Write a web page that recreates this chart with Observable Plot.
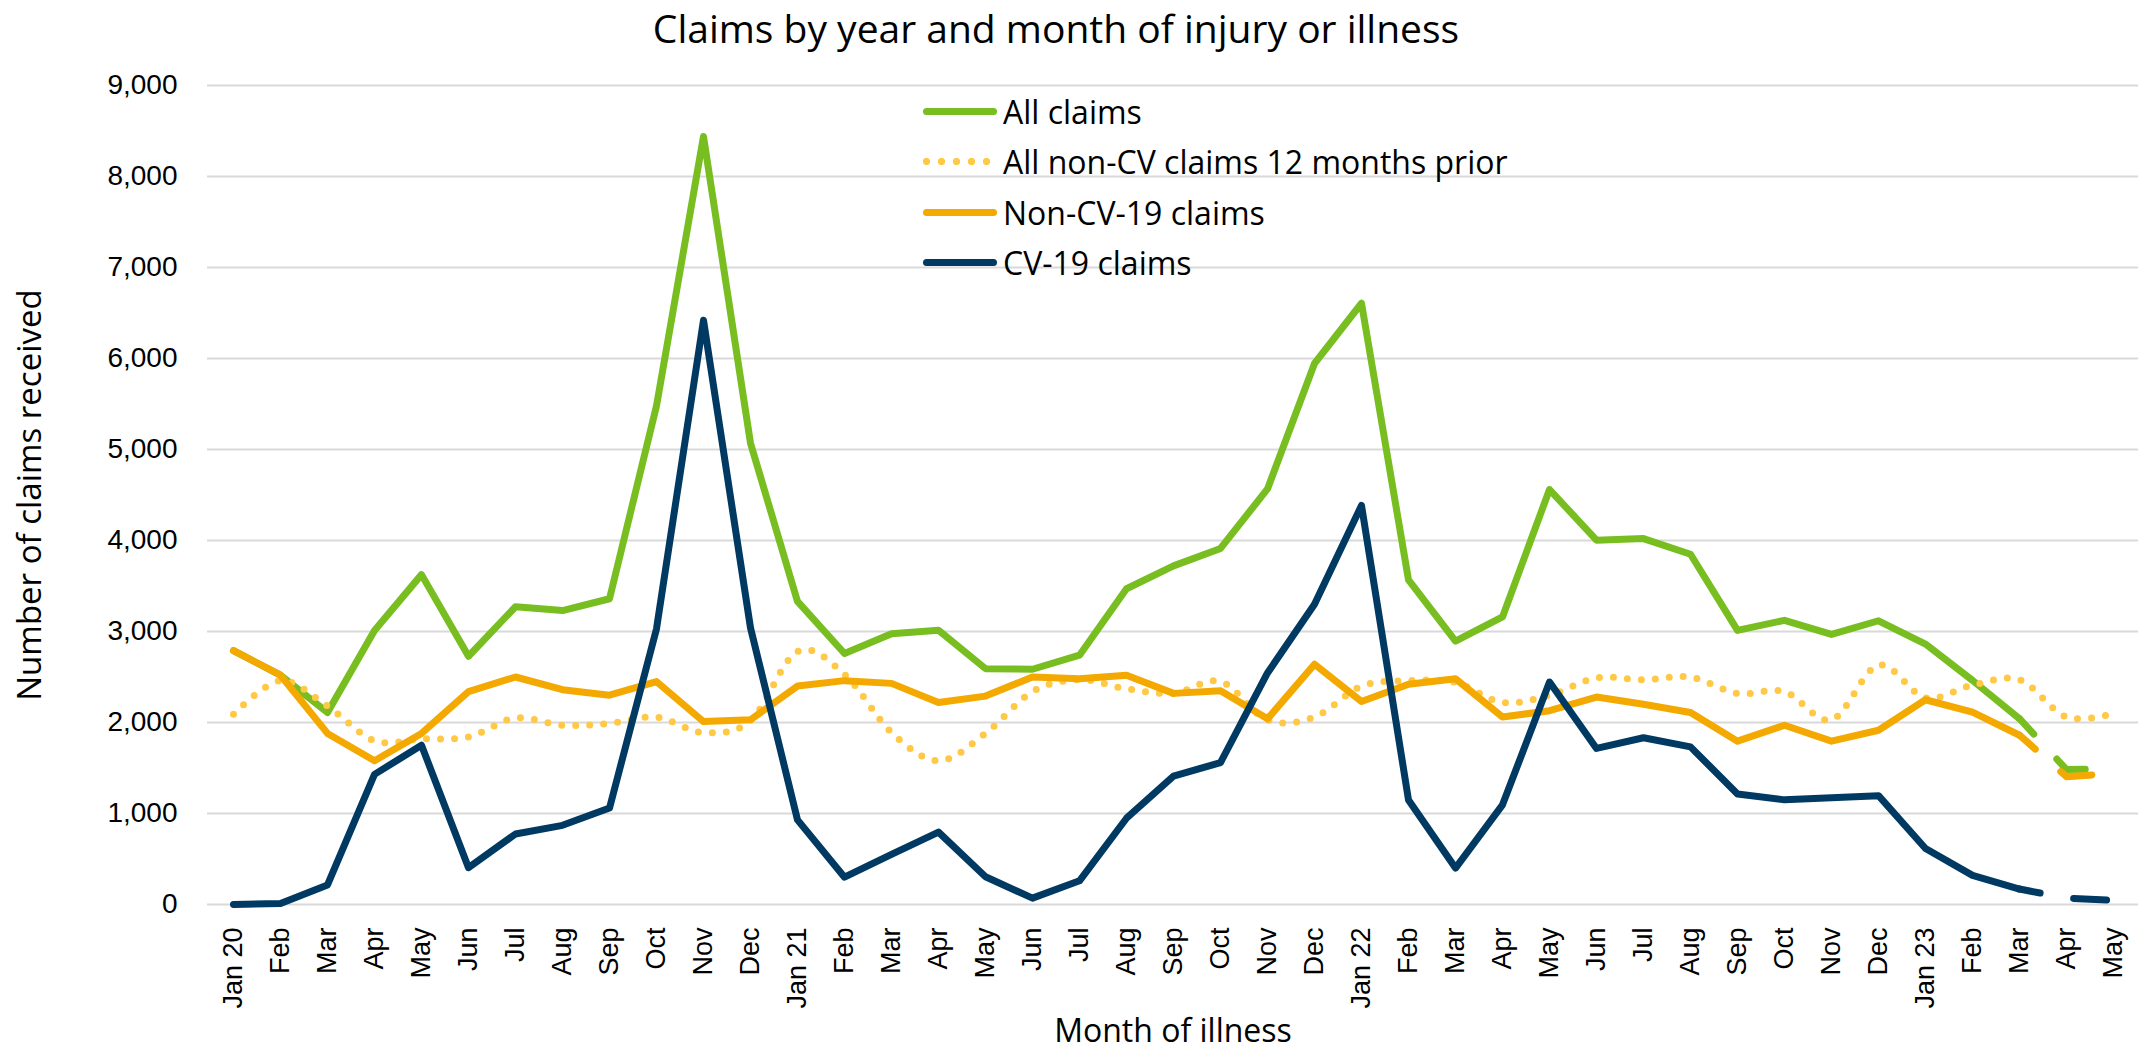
<!DOCTYPE html>
<html>
<head>
<meta charset="utf-8">
<script src="https://cdn.jsdelivr.net/npm/d3@7"></script>
<script src="https://cdn.jsdelivr.net/npm/@observablehq/plot@0.6"></script>
<style>
  body { margin: 0; background: #fff; width: 2147px; height: 1057px; position: relative; overflow: hidden; font-family: "Open Sans", sans-serif; }
  #title { position: absolute; left: 0; top: 0; width: 2112px; height: 55px; line-height: 55px; text-align: center; font-size: 39px; color: #000; }
  #chart { position: absolute; left: 0; top: 55px; }
  .leg { position: absolute; left: 923px; height: 50px; display: flex; align-items: center; font-size: 32px; color: #000; white-space: nowrap; z-index: 2; }
  .sw { width: 74px; height: 7px; border-radius: 3.5px; margin-right: 6px; }
  .dot { width: 74px; height: 7px; margin-right: 6px; background-image: radial-gradient(circle at 3.5px 3.5px, #ffc845 3.4px, transparent 3.9px); background-size: 15px 7px; background-repeat: repeat-x; }
</style>
</head>
<body>
<div id="title">Claims by year and month of injury or illness</div>
<div id="chart"></div>
<div class="leg" style="top:86px"><div class="sw" style="background:#78be21"></div>All claims</div>
<div class="leg" style="top:136px"><div class="dot"></div>All non-CV claims 12 months prior</div>
<div class="leg" style="top:187px"><div class="sw" style="background:#f4a900"></div>Non-CV-19 claims</div>
<div class="leg" style="top:237px"><div class="sw" style="background:#003a63"></div>CV-19 claims</div>
<script>
// Month labels (x categories)
const months = [
  "Jan 20","Feb","Mar","Apr","May","Jun","Jul","Aug","Sep","Oct","Nov","Dec",
  "Jan 21","Feb","Mar","Apr","May","Jun","Jul","Aug","Sep","Oct","Nov","Dec",
  "Jan 22","Feb","Mar","Apr","May","Jun","Jul","Aug","Sep","Oct","Nov","Dec",
  "Jan 23","Feb","Mar","Apr","May"
];
// Series values
const allClaims = [
  2790, 2520, 2110, 3010, 3625, 2728, 3272, 3230, 3360, 5480, 8440, 5070,
  3330, 2758, 2975, 3013, 2592, 2585, 2740, 3470, 3721, 3913, 4567, 5945,
  6607, 3567, 2895, 3160, 4560, 4003, 4021, 3849, 3012, 3123, 2968, 3118,
  2862, 2463, 2042, 1483, 1494
];
const priorYear = [
  2090, 2460, 2180, 1800, 1820, 1840, 2050, 1970, 1990, 2060, 1890, 2020,
  2780, 2530, 1890, 1580, 1880, 2340, 2470, 2370, 2320, 2450, 2030, 2060,
  2400, 2460, 2440, 2220, 2300, 2490, 2470, 2500, 2320, 2340, 2030, 2630,
  2270, 2410, 2470, 2060, 2100
];
const nonCV = [
  2790, 2520, 1880, 1580, 1880, 2340, 2500, 2360, 2300, 2450, 2010, 2030,
  2400, 2460, 2430, 2220, 2290, 2500, 2480, 2520, 2320, 2350, 2040, 2640,
  2230, 2420, 2480, 2060, 2130, 2280, 2200, 2110, 1795, 1970, 1795, 1915,
  2250, 2115, 1860, 1405, 1440
];
const cvClaims = [
  0, 10, 215, 1430, 1750, 405, 775, 870, 1060, 3030, 6420, 3040,
  930, 300, 550, 795, 305, 70, 260, 948, 1410, 1560, 2545, 3300,
  4385, 1148, 400, 1095, 2444, 1715, 1832, 1732, 1215, 1150, 1172, 1196,
  615, 320, 170, 70, 45
];
const yTicks = [0, 1000, 2000, 3000, 4000, 5000, 6000, 7000, 8000, 9000];
const lastSolid = 38; // Mar 23: later months shown dashed

const GREEN = "#78be21", DOT = "#ffc845", ORANGE = "#f4a900", NAVY = "#003a63";

const rows = months.map((m, i) => ({i, all: allClaims[i], prior: priorYear[i], non: nonCV[i], cv: cvClaims[i]}));
const solid = rows.filter(d => d.i <= lastSolid);
const dashed = rows.filter(d => d.i >= lastSolid);
const dash = {strokeDasharray: "33,34", strokeDashoffset: 12};

const chart = Plot.plot({
  width: 2147,
  height: 1002,
  marginLeft: 207,
  marginRight: 9,
  marginTop: 30,
  marginBottom: 153,
  style: {fontFamily: "Liberation Sans", background: "#fff", color: "#000"},
  x: {type: "point", domain: d3.range(months.length), padding: 0.5},
  y: {domain: [0, 9000]},
  marks: [
    Plot.gridY(yTicks, {stroke: "#d9d9d9", strokeOpacity: 1, strokeWidth: 2}),
    Plot.axisY(yTicks, {tickSize: 0, tickPadding: 30, tickFormat: d3.format(","), fontSize: 28, label: null}),
    Plot.axisX({tickSize: 0, tickPadding: 23, tickRotate: -90, tickFormat: i => months[i], fontSize: 27, label: null}),
    Plot.line(solid, {x: "i", y: "all", stroke: GREEN, strokeWidth: 7}),
    Plot.line(dashed, {x: "i", y: "all", stroke: GREEN, strokeWidth: 7, ...dash}),
    Plot.line(rows, {x: "i", y: "prior", stroke: DOT, strokeWidth: 7, strokeDasharray: "0,14", curve: "cardinal"}),
    Plot.line(solid, {x: "i", y: "non", stroke: ORANGE, strokeWidth: 7}),
    Plot.line(dashed, {x: "i", y: "non", stroke: ORANGE, strokeWidth: 7, ...dash}),
    Plot.line(solid, {x: "i", y: "cv", stroke: NAVY, strokeWidth: 7}),
    Plot.line(dashed, {x: "i", y: "cv", stroke: NAVY, strokeWidth: 7, ...dash}),
    Plot.text(["Number of claims received"], {text: d => d, frameAnchor: "left", textAnchor: "middle", lineAnchor: "middle", rotate: -90, dx: -177, fontSize: 33, fontFamily: "Open Sans", fill: "#000"}),
    Plot.text(["Month of illness"], {text: d => d, frameAnchor: "bottom", textAnchor: "middle", lineAnchor: "middle", dy: 127, fontSize: 32, fontFamily: "Open Sans", fill: "#000"})
  ]
});
document.getElementById("chart").appendChild(chart);
</script>
</body>
</html>
